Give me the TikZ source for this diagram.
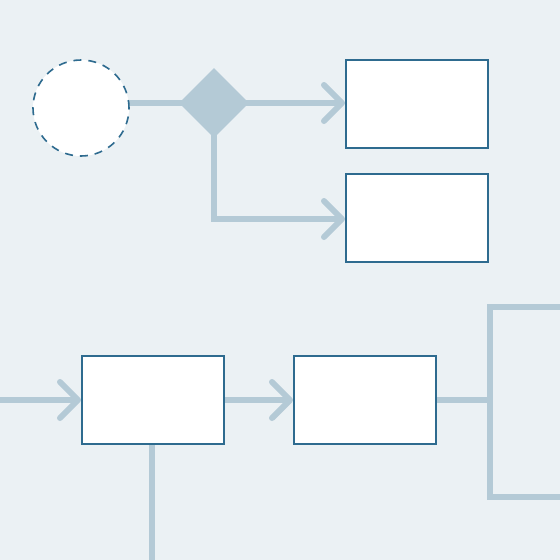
\documentclass[tikz,border=0pt]{standalone}
\usetikzlibrary{shapes.geometric,arrows.meta}
\definecolor{bgc}{HTML}{EBF1F4}
\definecolor{linec}{HTML}{B4CAD6}
\definecolor{borderc}{HTML}{2E6B8F}
\pgfdeclarelayer{back}
\pgfdeclarelayer{lines}
\pgfsetlayers{back,lines,main}
\begin{document}
\begin{tikzpicture}[x=1pt,y=-1pt,
  box/.style={draw=borderc,fill=white,line width=2pt,minimum width=142pt,minimum height=88pt,inner sep=0pt,rectangle},
  conn/.style={draw=linec,line width=6pt},
  arr/.style={conn,-{Straight Barb[length=18pt,width=36pt,line cap=round,line join=round]}}]
\begin{pgfonlayer}{back}
\fill[bgc] (0,0) rectangle (560,560);
\end{pgfonlayer}
\useasboundingbox (0,0) rectangle (560,560);
\node[circle,draw=borderc,fill=white,line width=1.6pt,dash pattern=on 8pt off 7pt,minimum size=96pt,inner sep=0pt] (c) at (81,108) {};
\node[diamond,fill=linec,minimum width=70pt,minimum height=70pt,inner sep=0pt,aspect=1] (d) at (214,103) {};
\node[box] (b1) at (417,104) {};
\node[box] (b2) at (417,218) {};
\node[box] (b3) at (153,400) {};
\node[box] (b4) at (365,400) {};
\coordinate (cs) at (81,103);
\coordinate (lin) at (0,400);
\coordinate (br) at (490,400);
\coordinate (bt) at (490,307);
\coordinate (bb) at (490,497);
\coordinate (bte) at (560,307);
\coordinate (bbe) at (560,497);
\coordinate (down) at (152,560);
\coordinate (t2) at (214,219);
\begin{pgfonlayer}{lines}
\draw[conn] (cs) -- (d.center);
\draw[arr] (d.center) -- (d.center -| b1.west);
\draw[arr] (d.center) -- (t2) -- (t2 -| b2.west);
\draw[arr] (lin) -- (b3.west);
\draw[arr] (b3.east) -- (b4.west);
\draw[conn] (b4.east) -- (br);
\draw[conn,line cap=butt] (bte) -- (bt) -- (bb) -- (bbe);
\draw[conn] (b3.south -| down) -- (down);
\end{pgfonlayer}
\end{tikzpicture}
\end{document}
